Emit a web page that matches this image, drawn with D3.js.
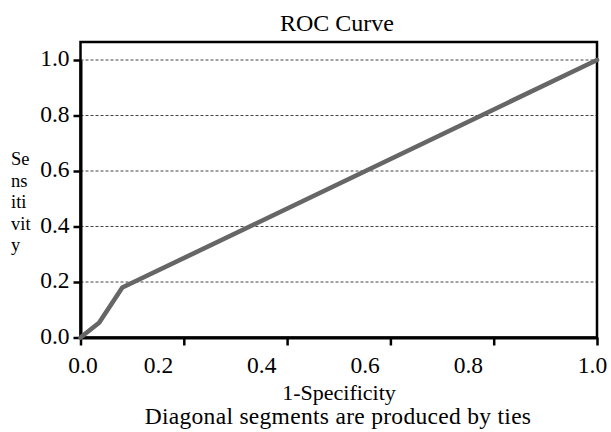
<!DOCTYPE html>
<html>
<head>
<meta charset="utf-8">
<script src="https://cdn.jsdelivr.net/npm/d3@7"></script>
<style>
  html, body { margin: 0; padding: 0; background: #fff; }
  svg { display: block; }
  text { font-family: "Liberation Serif", "Times New Roman", serif; fill: #000; }
</style>
</head>
<body>
<svg id="chart" width="611" height="432"></svg>
<script>
// ---- data ----
const fpr = [0, 0.036, 0.081, 1];          // 1-Specificity
const tpr = [0, 0.053, 0.18, 1];           // Sensitivity
const xTicks = [0, 0.2, 0.4, 0.6, 0.8, 1.0];
const yTicks = [0, 0.2, 0.4, 0.6, 0.8, 1.0];
const gridTicks = [0.2, 0.4, 0.6, 0.8, 1.0];
const titleText = "ROC Curve";
const xLabel = "1-Specificity";
const yLabelLines = ["Se", "ns", "iti", "vit", "y"];
const footnote = "Diagonal segments are produced by ties";

(function () {
// ---- layout ----
const svg = d3.select("#chart");
const pLeft = 80.5, pRight = 597, pTop = 42, pBottom = 337.5;
const x = d3.scaleLinear().domain([0, 1]).range([pLeft, pRight]);
const y = d3.scaleLinear().domain([0, 1]).range([pBottom, 60]);
const tickFs = 23.5;
const labelShift = 0.05; // interior x tick labels sit left of their ticks in the reference

svg.append("rect").attr("width", 611).attr("height", 432).attr("fill", "#fff");

// gridlines
svg.append("g").selectAll("line").data(gridTicks).join("line")
  .attr("x1", pLeft).attr("x2", pRight)
  .attr("y1", d => y(d)).attr("y2", d => y(d))
  .attr("stroke", "#444").attr("stroke-width", 1)
  .attr("stroke-dasharray", "3,2");

// frame
svg.append("rect")
  .attr("x", pLeft).attr("y", pTop)
  .attr("width", pRight - pLeft).attr("height", pBottom - pTop)
  .attr("fill", "none").attr("stroke", "#000").attr("stroke-width", 2.5);

// x axis
const xAxis = svg.append("g").attr("transform", `translate(0,${pBottom})`)
  .call(d3.axisBottom(x).tickValues(xTicks).tickFormat(d3.format(".1f"))
    .tickSize(8).tickSizeOuter(0).tickPadding(11));
xAxis.select(".domain").attr("stroke", "#000").attr("stroke-width", 3);
xAxis.selectAll(".tick line").attr("stroke", "#000").attr("stroke-width", 2.5);
xAxis.selectAll(".tick text").attr("font-size", tickFs)
  .attr("font-family", "Liberation Serif").attr("fill", "#000")
  .attr("x", d => {
    if (d > 0 && d < 1) return x(d - labelShift) - x(d);
    if (d === 1) return -5;
    return 2;
  });

// y axis
const yAxis = svg.append("g").attr("transform", `translate(${pLeft},0)`)
  .call(d3.axisLeft(y).tickValues(yTicks).tickFormat(d3.format(".1f"))
    .tickSize(7).tickSizeOuter(0).tickPadding(4));
yAxis.select(".domain").attr("stroke", "#000").attr("stroke-width", 3);
yAxis.selectAll(".tick line").attr("stroke", "#000").attr("stroke-width", 2.5);
yAxis.selectAll(".tick text").attr("font-size", tickFs)
  .attr("font-family", "Liberation Serif").attr("fill", "#000")
  .attr("dy", "0.25em");

// ROC line
const pts = fpr.map((v, i) => [v, tpr[i]]);
svg.append("path").datum(pts)
  .attr("d", d3.line().x(d => x(d[0])).y(d => y(d[1])))
  .attr("fill", "none").attr("stroke", "#666").attr("stroke-width", 4.6)
  .attr("stroke-linejoin", "round").attr("stroke-linecap", "round");

// title
svg.append("text").attr("x", 337).attr("y", 31)
  .attr("text-anchor", "middle").attr("font-size", 24).text(titleText);

// x label
svg.append("text").attr("x", 339).attr("y", 400)
  .attr("text-anchor", "middle").attr("font-size", 22).text(xLabel);

// footnote
svg.append("text").attr("x", 338).attr("y", 424)
  .attr("text-anchor", "middle").attr("font-size", 23.5)
  .attr("letter-spacing", 0.3).text(footnote);

// y label (wrapped)
svg.append("g").selectAll("text").data(yLabelLines).join("text")
  .attr("x", 11).attr("y", (d, i) => 165 + i * 21.5)
  .attr("font-size", 18.5).text(d => d);
})();
</script>
</body>
</html>
